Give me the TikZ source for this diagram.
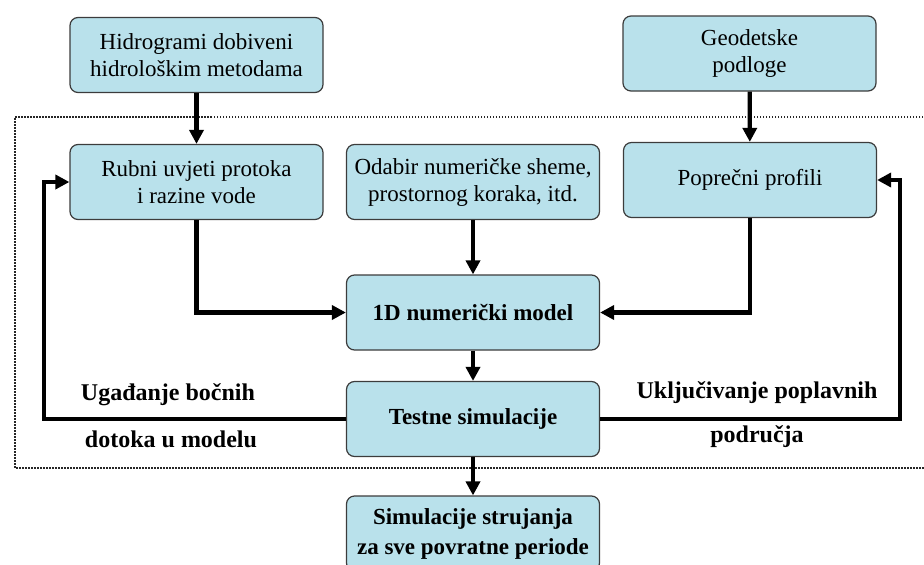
\documentclass[tikz,border=0pt]{standalone}
\usepackage{fontspec}
\setmainfont{Liberation Serif}
\usetikzlibrary{arrows.meta}
\definecolor{boxblue}{RGB}{185,225,235}
\definecolor{edgegray}{RGB}{60,60,60}

\tikzset{
    box/.style={draw=edgegray, line width=1.2pt, rounded corners=8pt, fill=boxblue,
        minimum width=253pt, minimum height=75pt, align=center, inner sep=2pt,
        font=\fontsize{23}{27}\selectfont},
    boldbox/.style={box, font=\fontsize{23}{30}\selectfont\bfseries},
    arr/.style={line width=4.2pt, -{Triangle[length=14pt,width=14pt]}},
    lbl/.style={font=\fontsize{24}{27}\selectfont\bfseries},
    frame/.style={line width=1.6pt, dash pattern=on 1.5pt off 1.5pt, black!85}
}

\begin{document}
\begin{tikzpicture}[x=1pt,y=-1pt]

\useasboundingbox (0,0) rectangle (924,565);

% Dotted frame
\draw[frame] (926,117) -- (15,117) -- (15,468) -- (926,468);

% Inputs
\node[box] (hidro) at (196.5,55) {Hidrogrami dobiveni\\hidrološkim metodama};
\node[box] (geo) at (749.5,53.5) {Geodetske\\podloge};

% Inside the frame
\node[box] (rubni) at (196.5,182) {Rubni uvjeti protoka\\i razine vode};
\node[box] (odabir) at (473,182) {Odabir numeričke sheme,\\prostornog koraka, itd.};
\node[box] (popr) at (750,180) {Poprečni profili};
\node[boldbox] (model) at (473,312.5) {1D numerički model};
\node[boldbox] (testne) at (473,419) {Testne simulacije};

% Result
\node[boldbox] (sim) at (473,533.5) {Simulacije strujanja\\za sve povratne periode};

% Arrows
\draw[arr] (hidro) -- (rubni);
\draw[arr] (geo) -- (popr);
\draw[arr] (odabir) -- (model);
\draw[arr] (rubni.south) |- (model.west);
\draw[arr] (popr.south) |- (model.east);
\draw[arr] (model) -- (testne);
\draw[arr] (testne) -- (sim);

% Feedback loops
\draw[arr] (testne.west) -- ++(-302,0) |- (rubni.west);
\draw[arr] (testne.east) -- ++(300,0) |- (popr.east);

% Labels
\node[lbl] (ugad) at (168,395) {Ugađanje bočnih};
\node[lbl] (dotok) at (171,439) {dotoka u modelu};
\node[lbl] (uklj) at (757,393) {Uključivanje poplavnih};
\node[lbl] (podr) at (757,437) {područja};

\end{tikzpicture}
\end{document}
